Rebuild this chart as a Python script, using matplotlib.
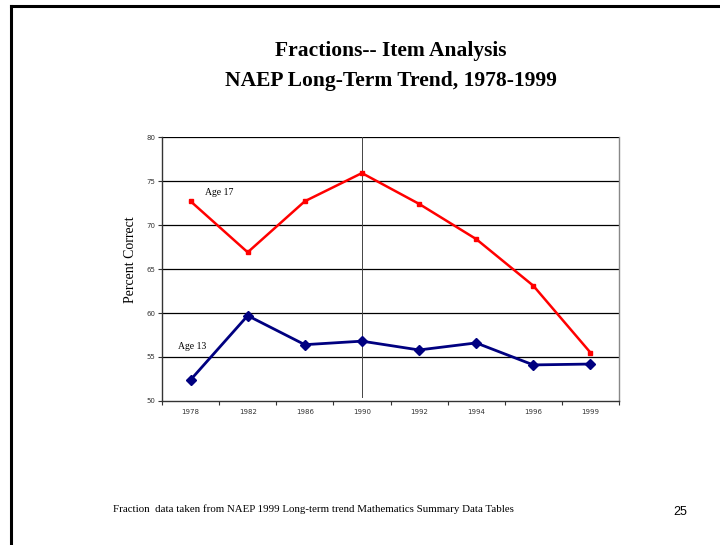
import numpy as np
import matplotlib
matplotlib.use("Agg")
import matplotlib.pyplot as plt
from matplotlib.lines import Line2D

years = ['1978', '1982', '1986', '1990', '1992', '1994', '1996', '1999']
age17 = [72.7, 66.9, 72.7, 75.9, 72.4, 68.4, 63.1, 55.5]
age13 = [52.4, 59.7, 56.4, 56.8, 55.8, 56.6, 54.1, 54.2]

serif = ['Liberation Serif', 'DejaVu Serif']

fig = plt.figure(figsize=(7.2, 5.45), dpi=100)

# slide border (top and left only)
fig.add_artist(Line2D([11/720, 1], [1 - 6/545, 1 - 6/545], color='black', lw=2.2,
                      transform=fig.transFigure))
fig.add_artist(Line2D([11/720, 11/720], [0, 1 - 6/545], color='black', lw=2.2,
                      transform=fig.transFigure))

# titles
fig.text(391/720, 1 - 51/545, 'Fractions-- Item Analysis', ha='center', va='center',
         fontsize=15.5, fontweight='bold', family=serif)
fig.text(391/720, 1 - 81/545, 'NAEP Long-Term Trend, 1978-1999', ha='center', va='center',
         fontsize=15.5, fontweight='bold', family=serif)

ax = fig.add_axes([162/720, 1 - 401/545, (619 - 162)/720, (401 - 137)/545])
x = np.arange(len(years))

# gridlines
for g in [55, 60, 65, 70, 75, 80]:
    ax.axhline(g, color='black', lw=0.9, zorder=1)
ax.plot([3, 3], [50.4, 80], color='#444444', lw=0.7, zorder=1)

ax.plot(x, age17, color='#ff0000', lw=1.8, marker='s', ms=3.5, zorder=3)
ax.plot(x, age13, color='#000080', lw=2.0, marker='D', ms=5.5, zorder=3)

ax.text(0.25, 73.7, 'Age 17', fontsize=7, family=serif, va='center')
ax.text(-0.22, 56.2, 'Age 13', fontsize=7, family=serif, va='center')

ax.set_xlim(-0.5, 7.5)
ax.set_ylim(50, 80)
ax.set_yticks([50, 55, 60, 65, 70, 75, 80])
ax.tick_params(axis='y', labelsize=5, length=3, width=0.8, pad=2, colors='#333333')
ax.set_xticks(np.arange(-0.5, 8, 1))
ax.set_xticklabels([])
ax.set_xticks(x, minor=True)
ax.set_xticklabels(years, minor=True)
ax.tick_params(axis='x', which='major', length=3, width=0.8, color='#333333')
ax.tick_params(axis='x', which='minor', length=0, labelsize=5, pad=6, labelcolor='#333333')

ax.spines['left'].set_color('#333333')
ax.spines['bottom'].set_color('#333333')
ax.spines['right'].set_color('#888888')
ax.spines['top'].set_visible(False)
for s in ['left', 'bottom', 'right']:
    ax.spines[s].set_linewidth(1.0)

fig.text(130/720, 1 - 260/545, 'Percent Correct', rotation=90, ha='center', va='center',
         fontsize=10, family=serif)

fig.text(113/720, 1 - 509/545, 'Fraction  data taken from NAEP 1999 Long-term trend Mathematics Summary Data Tables',
         ha='left', va='center', fontsize=7.8, family=serif)
fig.text(680/720, 1 - 512/545, '25', ha='center', va='center', fontsize=9,
         family='Liberation Sans')

fig.savefig('out.png', dpi=100)
